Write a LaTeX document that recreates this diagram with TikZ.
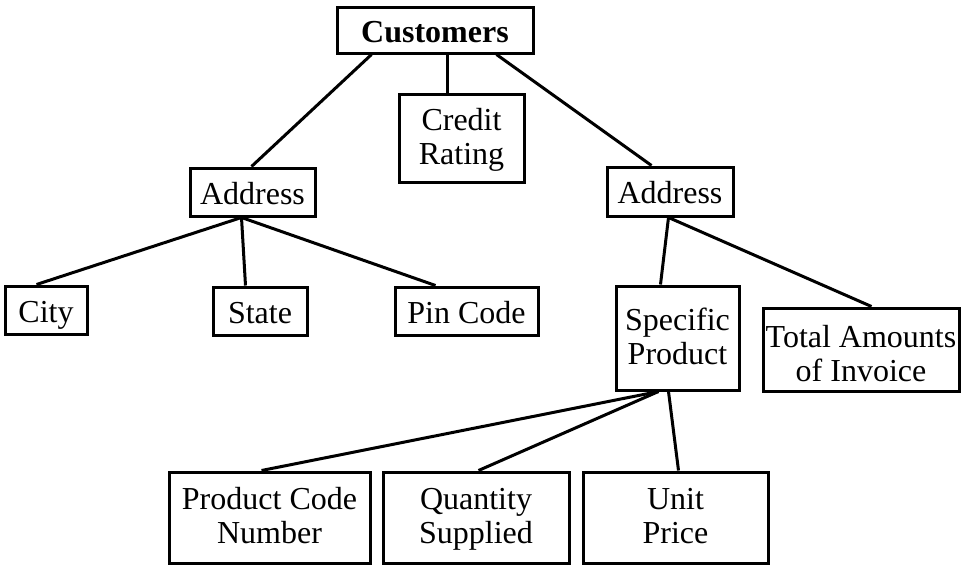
\documentclass[tikz,border=0pt]{standalone}
\usepackage{fontspec}
\setmainfont{Liberation Serif}
\newcommand\onestrut{\rule[-8pt]{0pt}{40pt}}
\newcommand\twostrut{\rule[-8pt]{0pt}{34pt}}
\newcommand\lowstrut{\rule[-8pt]{0pt}{46pt}}
\begin{document}
\begin{tikzpicture}[x=1pt,y=-1pt,
  box/.style={draw=black,line width=3pt,inner sep=0pt,align=center,
    font=\fontsize{32}{34}\selectfont},
  link/.style={line width=3pt}]
\useasboundingbox (0,0) rectangle (962,568);
\fill[white] (0,0) rectangle (962,568);
\node[box,minimum width=196pt,minimum height=46pt,font=\fontsize{32}{34}\selectfont\bfseries] (cust) at (435,30) {\onestrut Customers};
\node[box,minimum width=125pt,minimum height=88pt] (cred) at (461.5,138) {\twostrut Credit\\\twostrut Rating};
\node[box,minimum width=125pt,minimum height=48pt] (addrl) at (252.5,192) {\onestrut Address};
\node[box,minimum width=126pt,minimum height=49pt] (addrr) at (670,191.5) {\onestrut Address};
\node[box,minimum width=82pt,minimum height=48pt] (city) at (46,310) {\onestrut City};
\node[box,minimum width=94pt,minimum height=48pt] (state) at (260,311) {\onestrut State};
\node[box,minimum width=143pt,minimum height=48pt] (pin) at (466.5,311) {\onestrut Pin Code};
\node[box,minimum width=123pt,minimum height=104pt] (spec) at (677.5,338) {\twostrut Specific\\\twostrut Product};
\node[box,minimum width=196pt,minimum height=83pt] (total) at (861,349.5) {\lowstrut Total Amounts\\\twostrut of Invoice};
\node[box,minimum width=201pt,minimum height=91pt] (pcn) at (269.5,517.5) {\twostrut Product Code\\\twostrut Number};
\node[box,minimum width=186pt,minimum height=91pt] (qty) at (476,517.5) {\twostrut Quantity\\\twostrut Supplied};
\node[box,minimum width=185pt,minimum height=91pt] (unit) at (675.5,517.5) {\twostrut Unit\\\twostrut Price};
\draw[link] ([xshift=36pt]cust.south west) -- ([xshift=63pt]addrl.north west);
\draw[link] ([xshift=112pt]cust.south west) -- ([xshift=50pt]cred.north west);
\draw[link] ([xshift=161pt]cust.south west) -- ([xshift=46pt]addrr.north west);
\draw[link] ([xshift=53pt]addrl.south west) -- ([xshift=33pt]city.north west);
\draw[link] ([xshift=53pt]addrl.south west) -- ([xshift=34pt]state.north west);
\draw[link] ([xshift=53pt]addrl.south west) -- ([xshift=42pt]pin.north west);
\draw[link] ([xshift=63pt]addrr.south west) -- ([xshift=46pt]spec.north west);
\draw[link] ([xshift=63pt]addrr.south west) -- ([xshift=110pt]total.north west);
\draw[link] ([xshift=44pt]spec.south west) -- ([xshift=94pt]pcn.north west);
\draw[link] ([xshift=44pt]spec.south west) -- ([xshift=97pt]qty.north west);
\draw[link] ([xshift=54pt]spec.south west) -- ([xshift=97pt]unit.north west);
\end{tikzpicture}
\end{document}
